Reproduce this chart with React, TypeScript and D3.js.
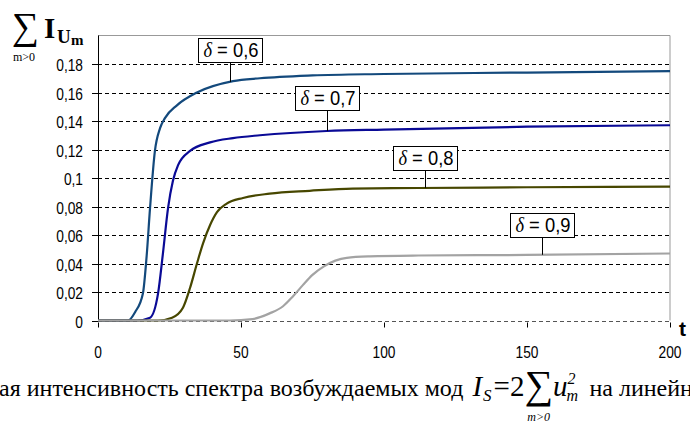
import { useEffect, useRef } from "react";
import * as d3 from "d3";

// t values and series
const t06 = [0, 10.5, 13, 15.7, 17, 18.2, 19.9, 21.7, 23.4, 27.6, 34.6, 47.2, 56.6, 75, 100, 150, 200];
const v06 = [0, 0, 0.006, 0.019, 0.045, 0.079, 0.119, 0.135, 0.142, 0.151, 0.16, 0.168, 0.17, 0.172, 0.173, 0.174, 0.175];

const t07 = [0, 13.6, 18.2, 21, 22.7, 24.5, 26.2, 28, 32.2, 39.2, 47.2, 56.6, 80, 100, 150, 200];
const v07 = [0, 0, 0.002, 0.019, 0.047, 0.079, 0.098, 0.109, 0.119, 0.125, 0.128, 0.13, 0.133, 0.134, 0.136, 0.137];

const t08 = [0, 21, 25.9, 29.7, 32.2, 34.6, 36.7, 39.2, 41.6, 45, 50.7, 60, 74, 89, 112, 150, 200];
const v08 = [0, 0, 0.002, 0.009, 0.023, 0.04, 0.054, 0.067, 0.076, 0.082, 0.086, 0.089, 0.091, 0.0926, 0.093, 0.0935, 0.094];

const t09 = [0, 46, 54, 60, 64.7, 68.2, 71.7, 75, 79, 83, 87, 95, 112, 150, 200];
const v09 = [0, 0, 0.001, 0.005, 0.01, 0.017, 0.025, 0.032, 0.038, 0.042, 0.044, 0.045, 0.0456, 0.046, 0.047];

const seriesNames = ["0,6", "0,7", "0,8", "0,9"];
const seriesColors = ["#13497c", "#0a0a96", "#474700", "#a3a3a3"];
// where each label's pointer meets its curve (t) and the label box centre above it
const labelT = [46.2, 80, 114.3, 155.2];
const labelBoxY = [0.1895, 0.1561, 0.114, 0.0667];

const yTicks = [0, 0.02, 0.04, 0.06, 0.08, 0.1, 0.12, 0.14, 0.16, 0.18];
const yTickLabels = ["0", "0,02", "0,04", "0,06", "0,08", "0,1", "0,12", "0,14", "0,16", "0,18"];
const xTicks = [0, 50, 100, 150, 200];

const captionStart = "ая интенсивность спектра возбуждаемых мод";
const captionEnd = "на линейн";

export default function App() {
  const ref = useRef<SVGSVGElement>(null);

  useEffect(() => {
    const svg = d3.select(ref.current);
    svg.selectAll("*").remove();

    const x = d3.scaleLinear().domain([0, 200]).range([98, 670]);
    const y = d3.scaleLinear().domain([0, 0.2]).range([320.5, 35.5]);
    const tickFont = "'Liberation Sans', Arial, sans-serif";
    const serif = "'Liberation Serif', 'Times New Roman', serif";

    // grid
    svg.append("g")
      .selectAll("line")
      .data(yTicks)
      .join("line")
      .attr("x1", x(0))
      .attr("x2", x(200))
      .attr("y1", d => Math.round(y(d)) + 0.5)
      .attr("y2", d => Math.round(y(d)) + 0.5)
      .attr("stroke", d => (d === 0 ? "#555" : "#000"))
      .attr("stroke-width", 1)
      .attr("stroke-dasharray", "4,3");

    // frame: top and right
    svg.append("path")
      .attr("d", `M${x(0)},${y(0.2)}H${x(200)}V${y(0)}`)
      .attr("fill", "none")
      .attr("stroke", "#999")
      .attr("stroke-width", 1);

    // left axis
    svg.append("line")
      .attr("x1", x(0) + 0.5).attr("x2", x(0) + 0.5)
      .attr("y1", y(0.2)).attr("y2", y(0) + 1)
      .attr("stroke", "#000");
    svg.append("g")
      .selectAll("line")
      .data(yTicks)
      .join("line")
      .attr("x1", x(0) - 6).attr("x2", x(0) + 1)
      .attr("y1", d => Math.round(y(d)) + 0.5)
      .attr("y2", d => Math.round(y(d)) + 0.5)
      .attr("stroke", "#000");
    svg.append("g")
      .selectAll("text")
      .data(yTicks)
      .join("text")
      .attr("transform", d => `translate(83,${y(d) + 7}) scale(0.86,1)`)
      .attr("text-anchor", "end")
      .attr("font-family", tickFont)
      .attr("font-size", 16)
      .text((d, i) => yTickLabels[i]);

    // x ticks
    svg.append("g")
      .selectAll("line")
      .data(xTicks)
      .join("line")
      .attr("x1", d => Math.round(x(d)) + 0.5)
      .attr("x2", d => Math.round(x(d)) + 0.5)
      .attr("y1", y(0) + 2)
      .attr("y2", y(0) + 7)
      .attr("stroke", "#000");
    svg.append("g")
      .selectAll("text")
      .data(xTicks)
      .join("text")
      .attr("transform", d => `translate(${x(d)},358) scale(0.86,1)`)
      .attr("text-anchor", "middle")
      .attr("font-family", tickFont)
      .attr("font-size", 16)
      .text(d => String(d));

    // curves
    const allT = [t06, t07, t08, t09];
    const allV = [v06, v07, v08, v09];
    const line = d3.line<[number, number]>()
      .x(d => x(d[0]))
      .y(d => y(d[1]))
      .curve(d3.curveMonotoneX);
    allT.forEach((ts, i) => {
      const pts = ts.map((t, j) => [t, allV[i][j]] as [number, number]);
      svg.append("path")
        .attr("d", line(pts))
        .attr("fill", "none")
        .attr("stroke", seriesColors[i])
        .attr("stroke-width", 2.2);
    });

    // labels with pointers
    seriesNames.forEach((name, i) => {
      const v = d3.scaleLinear().domain(allT[i]).range(allV[i])(labelT[i]);
      const cx = Math.round(x(labelT[i]));
      const by = y(labelBoxY[i]);
      svg.append("line")
        .attr("x1", cx + 0.5).attr("x2", cx + 0.5)
        .attr("y1", by + 12).attr("y2", y(v))
        .attr("stroke", "#000");
      svg.append("rect")
        .attr("x", cx - 32 + 0.5)
        .attr("y", Math.round(by - 12) + 0.5)
        .attr("width", 64)
        .attr("height", 24)
        .attr("fill", "#fff")
        .attr("stroke", "#000");
      const txt = svg.append("text")
        .attr("transform", `translate(${cx + 1},${by + 7}) scale(0.92,1)`)
        .attr("text-anchor", "middle")
        .attr("font-family", tickFont)
        .attr("font-size", 20);
      txt.append("tspan").attr("font-family", serif).attr("font-style", "italic").text("δ");
      txt.append("tspan").text(" = " + name);
    });

    // y title: sum of I_Um over m>0
    svg.append("text").attr("x", 12).attr("y", 39).attr("font-family", serif).attr("font-size", 38).text("∑");
    svg.append("text").attr("x", 13).attr("y", 61).attr("font-family", serif).attr("font-size", 12).text("m>0");
    svg.append("text").attr("x", 44).attr("y", 38).attr("font-family", serif).attr("font-weight", "bold")
      .attr("font-size", 29).text("I");
    svg.append("text").attr("x", 57).attr("y", 43).attr("font-family", serif).attr("font-weight", "bold")
      .attr("font-size", 19).text("U");
    svg.append("text").attr("x", 71).attr("y", 45).attr("font-family", serif).attr("font-weight", "bold")
      .attr("font-size", 15).text("m");

    svg.append("text").attr("x", 679).attr("y", 336)
      .attr("font-family", tickFont)
      .attr("font-weight", "bold").attr("font-size", 21).text("t");

    // caption, laid out left to right
    const baseY = 396;
    const measure = (s: d3.Selection<SVGTextElement, unknown, null, undefined>) =>
      (s.node() as SVGTextElement).getComputedTextLength();
    const cap = svg.append("text").attr("x", -1).attr("y", baseY).attr("font-family", serif).attr("font-size", 24)
      .text(captionStart);
    let cx = -1 + measure(cap) + 9;
    const iS = svg.append("text").attr("x", cx).attr("y", baseY).attr("font-family", serif).attr("font-size", 29)
      .attr("font-style", "italic").text("I");
    cx += measure(iS) + 1;
    const sS = svg.append("text").attr("x", cx).attr("y", baseY + 5).attr("font-family", serif).attr("font-size", 17)
      .attr("font-style", "italic").text("S");
    cx += measure(sS) + 2;
    const eq = svg.append("text").attr("x", cx).attr("y", baseY).attr("font-family", serif).attr("font-size", 29).text("=2");
    cx += measure(eq);
    const sig = svg.append("text").attr("x", cx).attr("y", baseY + 2).attr("font-family", serif).attr("font-size", 40).text("∑");
    const sw = measure(sig);
    svg.append("text").attr("x", cx + sw / 2).attr("y", 421).attr("text-anchor", "middle")
      .attr("font-family", serif).attr("font-size", 12).attr("font-style", "italic").text("m>0");
    cx += sw;
    const u = svg.append("text").attr("x", cx).attr("y", baseY).attr("font-family", serif).attr("font-size", 29)
      .attr("font-style", "italic").text("u");
    const uw = measure(u);
    svg.append("text").attr("x", cx + uw).attr("y", baseY - 12).attr("font-family", serif).attr("font-size", 16)
      .attr("font-style", "italic").text("2");
    svg.append("text").attr("x", cx + uw - 1).attr("y", baseY + 5).attr("font-family", serif).attr("font-size", 16)
      .attr("font-style", "italic").text("m");
    cx += uw + 22;
    svg.append("text").attr("x", cx).attr("y", baseY).attr("font-family", serif).attr("font-size", 24).text(captionEnd);
  }, []);

  return (
    <svg ref={ref} width={690} height={423} style={{ position: "absolute", left: 0, top: 0, background: "#fff" }} />
  );
}
